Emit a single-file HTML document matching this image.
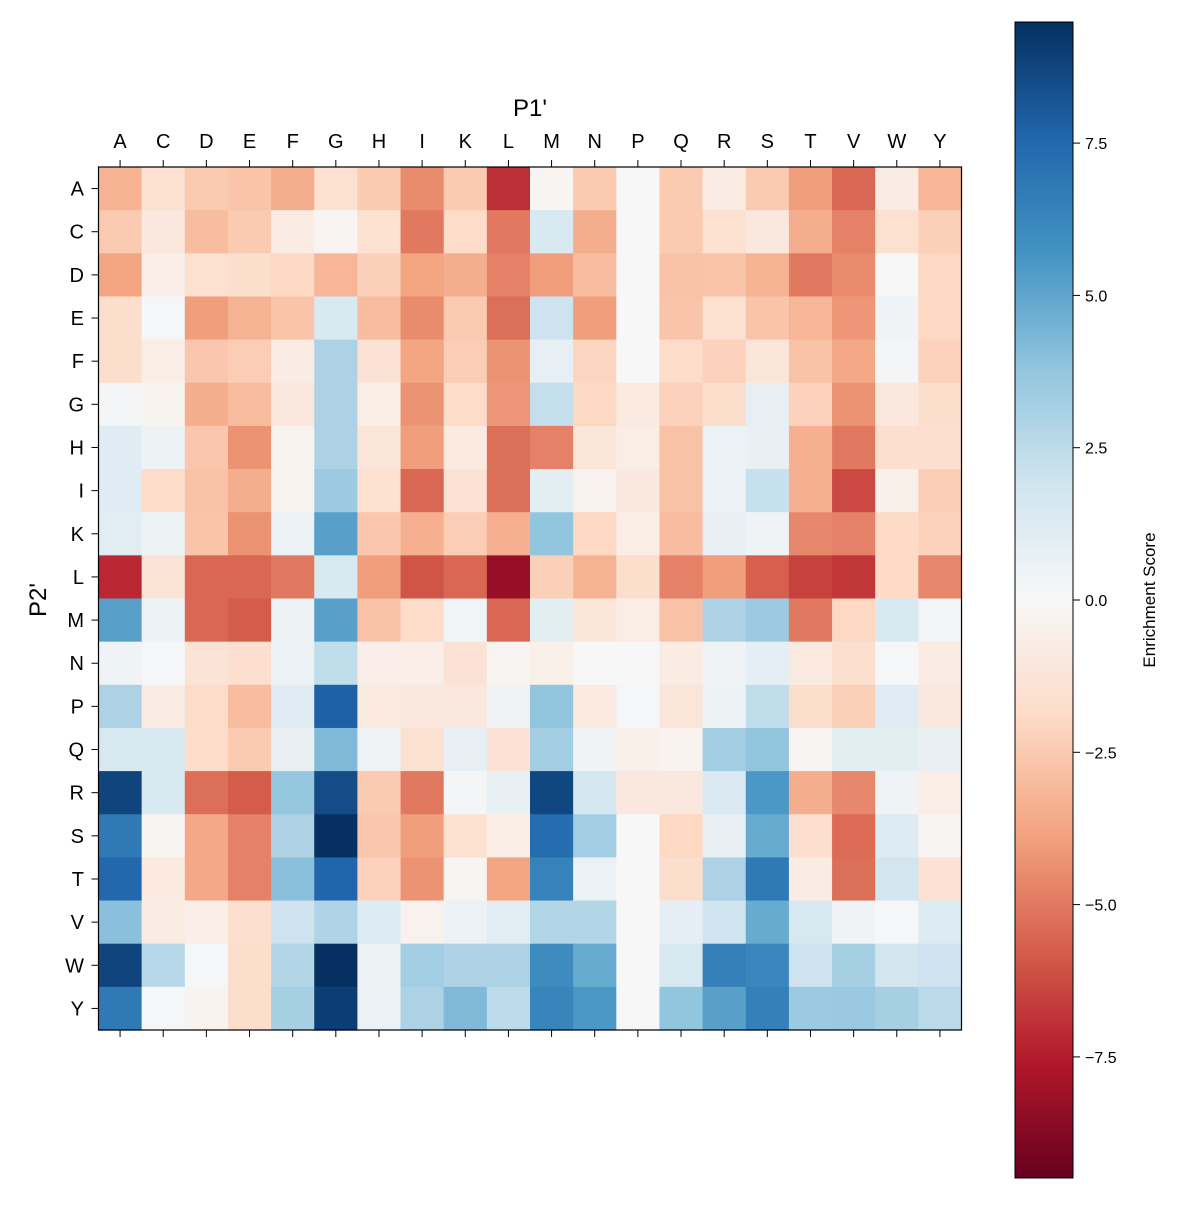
<!DOCTYPE html>
<html><head><meta charset="utf-8">
<style>
html,body{margin:0;padding:0;background:#fff;}
svg text{font-family:"Liberation Sans","DejaVu Sans",sans-serif;fill:#000;}
</style></head>
<body>
<svg id="s" width="1200" height="1200" xmlns="http://www.w3.org/2000/svg">
<defs>
<linearGradient id="cb" x1="0" y1="1" x2="0" y2="0">
<stop offset="0" stop-color="#67001f"/>
<stop offset="0.1" stop-color="#b2182b"/>
<stop offset="0.2" stop-color="#d6604d"/>
<stop offset="0.3" stop-color="#f4a582"/>
<stop offset="0.4" stop-color="#fddbc7"/>
<stop offset="0.5" stop-color="#f7f7f7"/>
<stop offset="0.6" stop-color="#d1e5f0"/>
<stop offset="0.7" stop-color="#92c5de"/>
<stop offset="0.8" stop-color="#4393c3"/>
<stop offset="0.9" stop-color="#2166ac"/>
<stop offset="1" stop-color="#053061"/>
</linearGradient>
</defs>
<g id="cells"></g>
<rect x="98.5" y="167" width="863" height="863" fill="none" stroke="#000" stroke-width="1.2"/>
<g id="ticks" stroke="#000" stroke-width="1"></g>
<g id="labels" font-size="20"></g>
<text x="530" y="116" font-size="24" text-anchor="middle">P1'</text>
<text x="46" y="600" font-size="24" text-anchor="middle" transform="rotate(-90 46 600)">P2'</text>
<rect x="1015" y="22" width="58" height="1156" fill="url(#cb)" stroke="#000" stroke-width="1"/>
<g id="cbt" stroke="#000" stroke-width="1"></g>
<g id="cbl" font-size="16"></g>
<text x="1155" y="600" font-size="17" text-anchor="middle" transform="rotate(-90 1155 600)">Enrichment Score</text>
</svg>
<script>
var L="ACDEFGHIKLMNPQRSTVWY".split("");
var D=[
[-3.3,-1.5,-2.5,-2.7,-3.5,-1.5,-2.5,-4.5,-2.5,-7,-0.2,-2.5,0,-2.5,-0.8,-2.5,-4,-5.5,-0.8,-3.2],
[-2.5,-1,-3,-2.5,-0.8,-0.2,-1.5,-5,-1.8,-5,1.5,-3.5,0,-2.5,-1.5,-1,-3.5,-4.8,-1.5,-2.3],
[-3.8,-0.6,-1.5,-1.7,-2,-3.2,-2.3,-3.8,-3.5,-4.8,-4,-3,0,-2.8,-2.7,-3.3,-5,-4.5,0,-2],
[-1.7,0.1,-4,-3.3,-2.7,1.5,-3,-4.5,-2.5,-5.3,2,-4,0,-2.7,-1.5,-2.7,-3.2,-4.2,0.4,-2],
[-1.7,-0.7,-2.6,-2.4,-0.8,3,-1.4,-3.8,-2.4,-4.3,0.8,-2.1,0,-1.8,-2.2,-1.2,-2.8,-3.7,0.2,-2.2],
[0.2,-0.3,-3.5,-3,-1,3,-0.7,-4.3,-1.8,-4.2,2.3,-2,-0.9,-2.2,-1.7,0.8,-2.2,-4.3,-1,-1.7],
[1.2,0.5,-2.6,-4.3,-0.3,3,-1.2,-4,-0.9,-5.3,-4.8,-1.2,-0.7,-2.8,0.6,0.7,-3.4,-5,-1.6,-1.6],
[1.2,-1.8,-2.8,-3.5,-0.3,3.5,-1.5,-5.5,-1.4,-5.3,1,-0.4,-1,-2.8,0.6,2.2,-3.4,-6.3,-0.5,-2.4],
[1.1,0.5,-2.7,-4.3,0.6,5.2,-2.6,-3.4,-2.4,-3.4,3.8,-2,-0.7,-3,0.8,0.4,-4.6,-4.8,-1.9,-2.2],
[-7.2,-1.3,-5.5,-5.5,-5,1.5,-4,-6,-5.5,-8.3,-2.3,-3.3,-1.7,-4.8,-4,-5.7,-6.5,-6.8,-1.9,-4.6],
[5.2,0.5,-5.5,-5.8,0.5,5.2,-2.8,-1.8,0.3,-5.5,1,-1.2,-0.7,-2.8,3,3.5,-5,-2,1.5,0.2],
[0.4,0.1,-1.3,-1.6,0.6,2.4,-0.6,-0.6,-1.4,-0.2,-0.5,0,0,-0.8,0.4,0.9,-0.9,-1.6,0.1,-0.8],
[3,-0.8,-1.8,-3,1.2,7.8,-0.9,-1,-1,0.4,3.8,-0.9,0.1,-1.2,0.5,2.4,-1.7,-2.3,1.2,-1],
[1.6,1.6,-1.8,-2.5,0.7,4.2,0.4,-1.5,0.8,-1.4,3.3,0.4,-0.5,-0.3,3.3,3.8,-0.2,1,1,0.7],
[8.8,1.5,-5.3,-5.8,3.7,8.5,-2.5,-5,0.2,0.7,8.7,1.7,-1,-1,1.4,5.5,-3.5,-4.6,0.4,-0.7],
[6.8,-0.2,-3.7,-4.8,3,9.5,-2.6,-4,-1.5,-0.7,7.3,3.3,0,-2,0.7,4.8,-1.6,-5.4,1.3,-0.2],
[7.5,-0.9,-3.7,-4.8,4,7.6,-2.2,-4.3,-0.2,-3.8,6.4,0.6,0,-1.7,3,6.8,-0.8,-5.3,1.8,-1.4],
[4,-0.8,-0.6,-1.6,2,2.9,1.3,-0.4,0.6,1.1,2.8,2.8,0,0.9,1.9,4.8,1.6,0.4,0.1,1.3],
[8.8,2.7,0.1,-1.7,2.8,9.5,0.5,3.3,3,3,6,4.8,0,1.6,6.5,6.2,2,3.2,1.8,2],
[6.8,0.1,-0.3,-1.7,3.2,9,0.6,3,4.2,2.5,6.3,5.5,0,3.8,5.2,6.5,3.5,3.6,3.2,2.6]];
var S=["#67001f","#b2182b","#d6604d","#f4a582","#fddbc7","#f7f7f7","#d1e5f0","#92c5de","#4393c3","#2166ac","#053061"];
function h2r(h){return[parseInt(h.substr(1,2),16),parseInt(h.substr(3,2),16),parseInt(h.substr(5,2),16)];}
function col(v){var t=(v+9.5)/19;t=Math.max(0,Math.min(1,t));var f=t*10,i=Math.min(9,Math.floor(f)),r=f-i;var a=h2r(S[i]),b=h2r(S[i+1]);
return "rgb("+a.map(function(x,k){return Math.round(x+(b[k]-x)*r);}).join(",")+")";}
var NS="http://www.w3.org/2000/svg",x0=98.5,y0=167,c=863/20;
function el(n,at,p,txt){var e=document.createElementNS(NS,n);for(var k in at)e.setAttribute(k,at[k]);if(txt!==undefined)e.textContent=txt;document.getElementById(p).appendChild(e);}
for(var r=0;r<20;r++)for(var q=0;q<20;q++)el("rect",{x:x0+q*c,y:y0+r*c,width:c+0.6,height:c+0.6,fill:col(D[r][q])},"cells");
for(var i=0;i<20;i++){var cx=x0+(i+0.5)*c,cy=y0+(i+0.5)*c;
el("line",{x1:cx,y1:y0,x2:cx,y2:y0-7},"ticks");
el("line",{x1:cx,y1:y0+863,x2:cx,y2:y0+870},"ticks");
el("line",{x1:x0,y1:cy,x2:x0-7,y2:cy},"ticks");
el("text",{x:cx,y:148,"text-anchor":"middle"},"labels",L[i]);
el("text",{x:84,y:cy+7,"text-anchor":"end"},"labels",L[i]);}
var tv=[7.5,5,2.5,0,-2.5,-5,-7.5],tl=["7.5","5.0","2.5","0.0","\u22122.5","\u22125.0","\u22127.5"];
for(var j=0;j<7;j++){var y=600-tv[j]/2.5*152.3;
el("line",{x1:1073,y1:y,x2:1080,y2:y},"cbt");
el("text",{x:1085,y:y+6},"cbl",tl[j]);}
</script>
</body></html>
